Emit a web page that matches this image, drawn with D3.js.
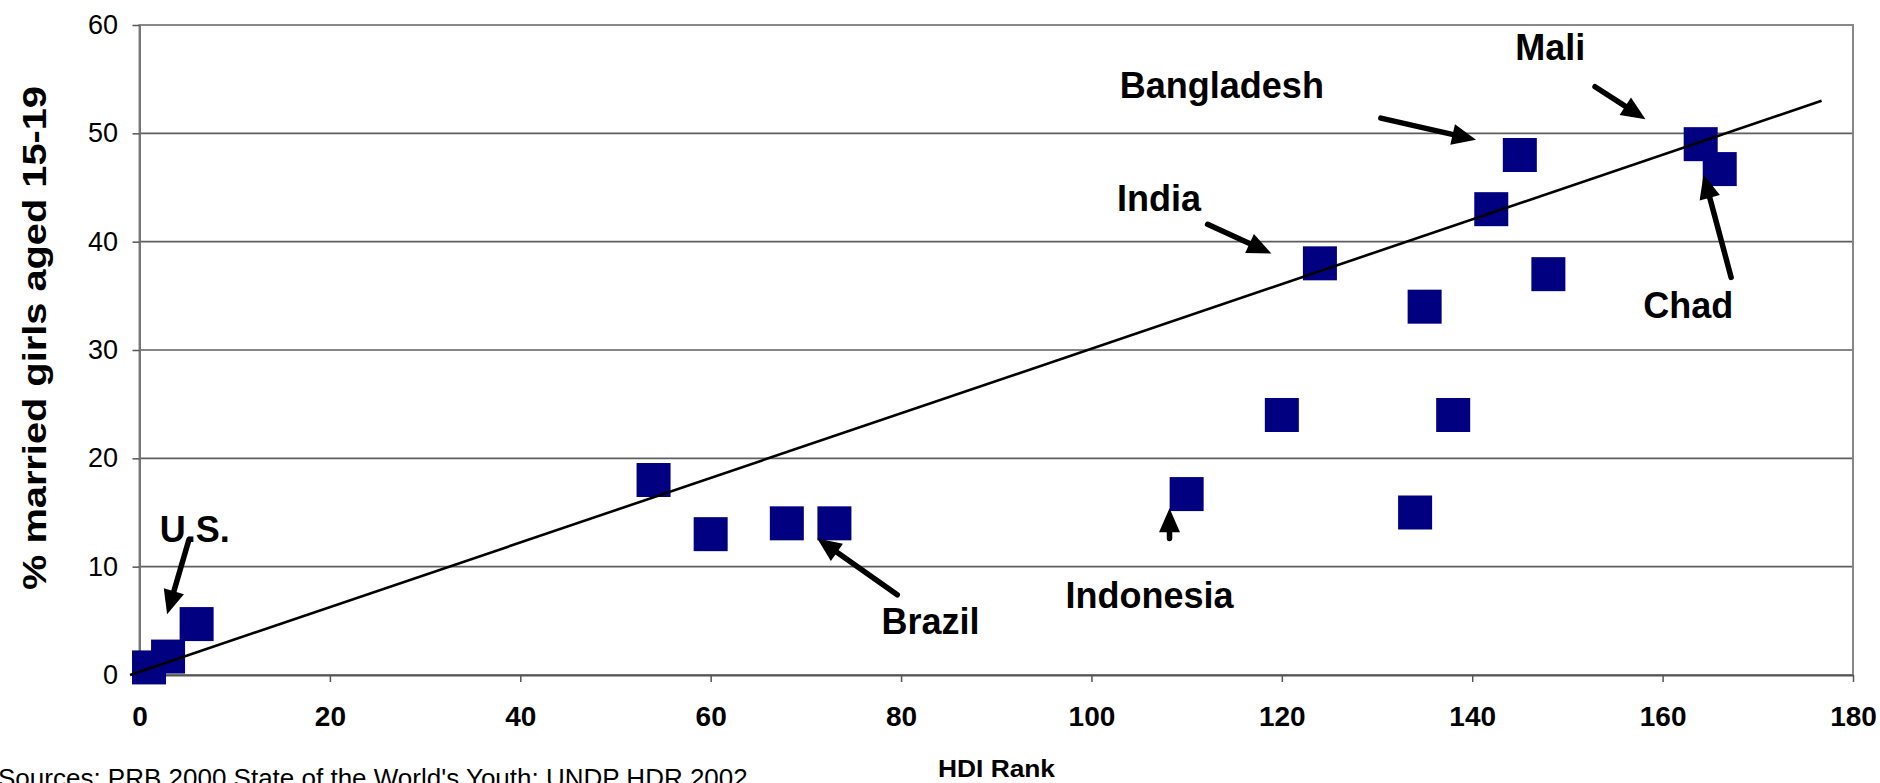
<!DOCTYPE html>
<html>
<head>
<meta charset="utf-8">
<script src="https://cdn.jsdelivr.net/npm/d3@7"></script>
<style>
  html, body { margin: 0; padding: 0; background: #fff; overflow: hidden; }
  text { font-family: Arial, "Liberation Sans", sans-serif; }
</style>
</head>
<body>
<svg id="chart" width="1880" height="783"></svg>
<script>
// Countries: HDI rank vs. % of girls aged 15-19 who are married
const hdiRank    = [1, 3, 6, 54, 60, 68, 73, 110, 120, 124, 134, 135, 138, 142, 145, 148, 164, 166];
const pctMarried = [0.7, 1.7, 4.7, 18, 13, 14, 14, 16.7, 24, 38, 15, 34, 24, 43, 48, 37, 49, 46.7];

// Linear trend line endpoints (HDI rank, %)
const trendRank = [-1, 176.7];
const trendPct  = [0, 53];

// Axis ticks
const xTicks = [0, 20, 40, 60, 80, 100, 120, 140, 160, 180];
const yTicks = [0, 10, 20, 30, 40, 50, 60];

// Callouts, in data units: label centre/baseline, arrow tail and arrow tip
const calloutNames   = ["Mali", "Bangladesh", "India", "Chad", "Brazil", "Indonesia", "U.S."];
const calloutLabelX  = [148.2, 113.7, 107.1, 162.7, 83.1, 106.1, 5.8];
const calloutLabelY  = [56.8, 53.3, 42.8, 33.0, 3.8, 6.2, 12.3];
const arrowTailX     = [152.9, 130.4, 112.2, 167.2, 79.6, 108.2, 5.2];
const arrowTailY     = [54.3, 51.4, 41.6, 36.7, 7.4, 12.6, 12.5];
const arrowTipX      = [158.2, 140.4, 118.9, 164.3, 71.2, 108.2, 2.9];
const arrowTipY      = [51.3, 49.4, 38.9, 46.2, 12.6, 15.4, 5.6];

const svg = d3.select("#chart");

const x = d3.scaleLinear().domain([0, 180]).range([139.5, 1853]);
const y = d3.scaleLinear().domain([0, 60]).range([675, 25]);

// Horizontal gridlines
svg.append("g")
  .selectAll("line")
  .data(yTicks.filter(v => v > 0 && v < 60))
  .join("line")
  .attr("x1", x(0)).attr("x2", x(180))
  .attr("y1", d => y(d)).attr("y2", d => y(d))
  .attr("stroke", "#5e5e5e")
  .attr("stroke-width", 1.6);

// Plot frame
svg.append("rect")
  .attr("x", x(0)).attr("y", y(60))
  .attr("width", x(180) - x(0)).attr("height", y(0) - y(60))
  .attr("fill", "none")
  .attr("stroke", "#888")
  .attr("stroke-width", 2);

// Y axis
const yAxis = svg.append("g")
  .attr("transform", `translate(${x(0)},0)`)
  .call(d3.axisLeft(y).tickValues(yTicks).tickSize(7).tickSizeOuter(0).tickPadding(14.5));
yAxis.select(".domain").attr("stroke", "#777").attr("stroke-width", 2);
yAxis.selectAll(".tick line").attr("stroke", "#555").attr("stroke-width", 1.5);
yAxis.selectAll("text")
  .attr("font-family", "Arial, 'Liberation Sans', sans-serif")
  .attr("font-size", 27)
  .attr("fill", "#000");

// X axis
const xAxis = svg.append("g")
  .attr("transform", `translate(0,${y(0)})`)
  .call(d3.axisBottom(x).tickValues(xTicks).tickSize(7).tickSizeOuter(0).tickPadding(24));
xAxis.select(".domain").attr("stroke", "#555").attr("stroke-width", 2.2);
xAxis.selectAll(".tick line").attr("stroke", "#555").attr("stroke-width", 1.5);
xAxis.selectAll("text")
  .attr("font-family", "Arial, 'Liberation Sans', sans-serif")
  .attr("font-size", 28)
  .attr("font-weight", "bold")
  .attr("fill", "#000");

// Data markers
const points = hdiRank.map((r, i) => ({ rank: r, pct: pctMarried[i] }));
const size = 34;
svg.append("g")
  .selectAll("rect")
  .data(points)
  .join("rect")
  .attr("x", d => x(d.rank) - size / 2)
  .attr("y", d => y(d.pct) - size / 2)
  .attr("width", size)
  .attr("height", size)
  .attr("fill", "#000080");

// Trend line
svg.append("line")
  .attr("x1", x(trendRank[0])).attr("y1", y(trendPct[0]))
  .attr("x2", x(trendRank[1])).attr("y2", y(trendPct[1]))
  .attr("stroke", "#000")
  .attr("stroke-width", 2.6);

// Callout arrows and labels
const callouts = calloutNames.map((name, i) => ({
  name,
  lx: calloutLabelX[i], ly: calloutLabelY[i],
  tx: arrowTailX[i], ty: arrowTailY[i],
  hx: arrowTipX[i], hy: arrowTipY[i]
}));

const headLen = 24, headHalf = 10.5;
const arrows = svg.append("g");
callouts.forEach(c => {
  const x0 = x(c.tx), y0 = y(c.ty), x1 = x(c.hx), y1 = y(c.hy);
  const dx = x1 - x0, dy = y1 - y0, len = Math.hypot(dx, dy);
  const ux = dx / len, uy = dy / len, nx = -uy, ny = ux;
  const bx = x1 - ux * headLen, by = y1 - uy * headLen;
  arrows.append("line")
    .attr("x1", x0).attr("y1", y0)
    .attr("x2", bx + ux * 3).attr("y2", by + uy * 3)
    .attr("stroke", "#000")
    .attr("stroke-width", 5.5)
    .attr("stroke-linecap", "round");
  arrows.append("polygon")
    .attr("points", [[x1, y1], [bx + nx * headHalf, by + ny * headHalf], [bx - nx * headHalf, by - ny * headHalf]].map(p => p.join(",")).join(" "))
    .attr("fill", "#000");
});

svg.append("g")
  .selectAll("text")
  .data(callouts)
  .join("text")
  .attr("x", d => x(d.lx))
  .attr("y", d => y(d.ly))
  .attr("text-anchor", "middle")
  .attr("font-size", 36)
  .attr("font-weight", "bold")
  .attr("fill", "#000")
  .text(d => d.name);

// Axis titles
svg.append("text")
  .attr("transform", "translate(46,338) rotate(-90)")
  .attr("text-anchor", "middle")
  .attr("font-size", 34)
  .attr("font-weight", "bold")
  .attr("textLength", 504)
  .attr("lengthAdjust", "spacingAndGlyphs")
  .text("% married girls aged 15-19");

svg.append("text")
  .attr("x", 938)
  .attr("y", 777)
  .attr("font-size", 23)
  .attr("font-weight", "bold")
  .attr("textLength", 117)
  .attr("lengthAdjust", "spacingAndGlyphs")
  .text("HDI Rank");

// Source note, running off the bottom edge
svg.append("text")
  .attr("x", -2)
  .attr("y", 787)
  .attr("font-size", 26)
  .attr("fill", "#000")
  .text("Sources: PRB 2000 State of the World's Youth; UNDP HDR 2002");
</script>
</body>
</html>
